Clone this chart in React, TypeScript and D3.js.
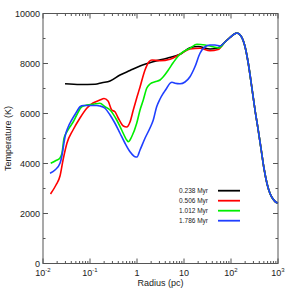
import React from "react";
import * as d3 from "d3";

const xTickValues = [0.01, 0.1, 1, 10, 100, 1000];
const xTickBase = ["10", "10", "1", "10", "10", "10"];
const xTickExp = ["-2", "-1", "", "", "2", "3"];
const yTickValues = [0, 2000, 4000, 6000, 8000, 10000];
const yMinorValues = [1000, 3000, 5000, 7000, 9000];

const seriesNames = ["0.238 Myr", "0.506 Myr", "1.012 Myr", "1.786 Myr"];
const seriesColors = ["#000000", "#ff0000", "#00ee00", "#1f3fff"];

// shared outer part (all epochs coincide)
const tailR = [74.5, 95.2, 116, 134, 163, 199, 233, 276, 324, 375, 435, 504, 583, 676, 783, 906, 1000];
const tailT = [8860, 9040, 9170, 9220, 9100, 8670, 8010, 7070, 6140, 5400, 4600, 3800, 3200, 2800, 2580, 2450, 2420];

const blackR = [0.0294, 0.0612, 0.128, 0.18, 0.267, 0.435, 0.709, 1.16, 2.19, 4.35, 8.22, 13.4, 19.9, 35.7, 52.9];
const blackT = [7190, 7160, 7170, 7230, 7300, 7540, 7720, 7900, 8070, 8210, 8370, 8630, 8680, 8580, 8620];

const redR = [0.01444, 0.0189, 0.023, 0.0267, 0.0324, 0.0435, 0.0612, 0.0863, 0.116, 0.163, 0.199, 0.242, 0.29, 0.34, 0.4, 0.512, 0.604, 0.71, 0.834, 1.0, 1.16, 1.48, 1.8, 2.08, 3.09, 5.04, 8.22, 13.4, 21.9, 35.7, 52.9];
const redT = [2780, 3140, 3500, 4140, 4820, 5340, 5820, 6220, 6420, 6540, 6600, 6500, 6140, 6070, 5810, 5500, 5460, 5660, 6140, 6660, 7060, 7740, 8070, 8140, 8110, 8170, 8370, 8580, 8610, 8510, 8560];

const greenR = [0.01459, 0.0189, 0.023, 0.0254, 0.028, 0.0324, 0.0375, 0.0441, 0.0521, 0.0665, 0.0851, 0.118, 0.163, 0.208, 0.267, 0.37, 0.472, 0.604, 0.653, 0.771, 0.986, 1.16, 1.36, 1.61, 1.89, 2.42, 3.09, 3.63, 4.64, 5.92, 7.56, 9.66, 13.4, 18.9, 28.0, 41.4, 55.6];
const greenT = [4010, 4120, 4220, 4420, 5010, 5270, 5470, 5670, 5940, 6270, 6340, 6370, 6410, 6270, 6140, 5740, 5340, 4940, 4870, 5070, 5610, 6140, 6540, 7010, 7180, 7270, 7340, 7470, 7740, 8040, 8300, 8470, 8610, 8770, 8740, 8670, 8620];

const blueR = [0.0141, 0.018, 0.023, 0.025, 0.0271, 0.0294, 0.0345, 0.0408, 0.0521, 0.0612, 0.072, 0.1, 0.139, 0.163, 0.208, 0.267, 0.34, 0.435, 0.556, 0.71, 0.906, 1.0, 1.16, 1.48, 1.89, 2.22, 2.62, 3.09, 3.63, 4.28, 5.04, 5.56, 6.44, 8.22, 10.5, 13.4, 17.1, 21.9, 28.0, 35.7, 45.7, 58.3];
const blueT = [3610, 3740, 4010, 4270, 4670, 5070, 5470, 5740, 6070, 6270, 6320, 6320, 6320, 6300, 6210, 5940, 5610, 5210, 4810, 4470, 4270, 4260, 4540, 5010, 5420, 5740, 6270, 6580, 6810, 7010, 7210, 7250, 7210, 7190, 7260, 7470, 7870, 8410, 8670, 8740, 8740, 8700];

const seriesR = [blackR, redR, greenR, blueR];
const seriesT = [blackT, redT, greenT, blueT];

const W = 291;
const H = 291;
const left = 43;
const right = 278;
const top = 13.5;
const bottom = 263.5;
const FONT = "Liberation Sans, Arial, sans-serif";
const AXIS = "#555";

export default function App() {
  const x = d3.scaleLog().domain([0.01, 1000]).range([left, right]);
  const y = d3.scaleLinear().domain([0, 10000]).range([bottom, top]);
  const line = d3
    .line<[number, number]>()
    .x((d) => x(d[0]))
    .y((d) => y(d[1]))
    .curve(d3.curveMonotoneX);

  const xMinor: number[] = [];
  for (let e = -2; e < 3; e++) {
    for (let k = 2; k <= 9; k++) xMinor.push(k * Math.pow(10, e));
  }

  return (
    <svg
      width={W}
      height={H}
      style={{ position: "fixed", left: 0, top: 0, background: "#fff" }}
      fontFamily={FONT}
    >
      <rect x={0} y={0} width={W} height={H} fill="#fff" />
      {seriesNames.map((n, i) => {
        const pts: [number, number][] = seriesR[i].map((r, j) => [r, seriesT[i][j]] as [number, number]);
        tailR.forEach((r, j) => pts.push([r, tailT[j]]));
        return (
          <path key={n} d={line(pts) || ""} fill="none" stroke={seriesColors[i]} strokeWidth={1.6} strokeLinejoin="round" />
        );
      })}
      {/* frame */}
      <rect x={left} y={top} width={right - left} height={bottom - top} fill="none" stroke={AXIS} strokeWidth={1} />
      {/* x ticks */}
      {xTickValues.map((v) => (
        <g key={"xm" + v}>
          <line x1={x(v)} x2={x(v)} y1={bottom} y2={bottom - 5} stroke={AXIS} />
          <line x1={x(v)} x2={x(v)} y1={top} y2={top + 5} stroke={AXIS} />
        </g>
      ))}
      {xMinor.map((v) => (
        <g key={"xn" + v}>
          <line x1={x(v)} x2={x(v)} y1={bottom} y2={bottom - 2.5} stroke={AXIS} />
          <line x1={x(v)} x2={x(v)} y1={top} y2={top + 2.5} stroke={AXIS} />
        </g>
      ))}
      {yTickValues.map((v) => (
        <g key={"ym" + v}>
          <line x1={left} x2={left + 5} y1={y(v)} y2={y(v)} stroke={AXIS} />
          <line x1={right} x2={right - 5} y1={y(v)} y2={y(v)} stroke={AXIS} />
          <text x={left - 3} y={y(v) + 3} textAnchor="end" fontSize={9} fill="#222">
            {v}
          </text>
        </g>
      ))}
      {yMinorValues.map((v) => (
        <g key={"yn" + v}>
          <line x1={left} x2={left + 2.5} y1={y(v)} y2={y(v)} stroke={AXIS} />
          <line x1={right} x2={right - 2.5} y1={y(v)} y2={y(v)} stroke={AXIS} />
        </g>
      ))}
      {xTickValues.map((v, i) => (
        <text key={"xl" + v} x={x(v)} y={bottom + 12} textAnchor="middle" fontSize={9} fill="#222">
          {xTickBase[i]}
          {xTickExp[i] && (
            <tspan fontSize={6} dy={-3.5}>
              {xTickExp[i]}
            </tspan>
          )}
        </text>
      ))}
      <text x={(left + right) / 2} y={286} textAnchor="middle" fontSize={9} fill="#222">
        Radius (pc)
      </text>
      <text
        transform={`translate(11, ${(top + bottom) / 2}) rotate(-90)`}
        textAnchor="middle"
        fontSize={9}
        fill="#222"
      >
        Temperature (K)
      </text>
      {/* legend */}
      {seriesNames.map((n, i) => (
        <g key={"lg" + n}>
          <text x={208} y={193 + i * 10} textAnchor="end" fontSize={6.5} fill="#222">
            {n}
          </text>
          <line x1={218} x2={240} y1={190.7 + i * 10} y2={190.7 + i * 10} stroke={seriesColors[i]} strokeWidth={1.8} />
        </g>
      ))}
    </svg>
  );
}
